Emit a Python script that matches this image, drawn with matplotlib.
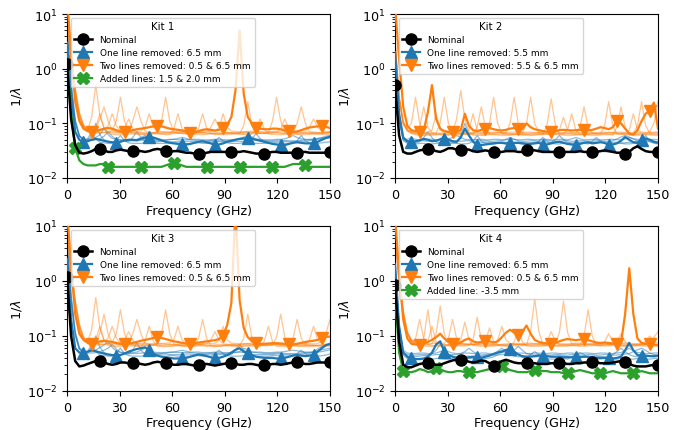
import numpy as np
import matplotlib
matplotlib.use("Agg")
import matplotlib.pyplot as plt

# Frequency grid (GHz), 65 samples from 0 to 150
freq_ghz = np.arange(65) * 150 / 64
SCALE = 1e-3  # all series below are 1/lambda in units of 1e-3

kit_titles = ["Kit 1", "Kit 2", "Kit 3", "Kit 4"]
one_labels = ["One line removed: 6.5 mm", "One line removed: 5.5 mm",
              "One line removed: 6.5 mm", "One line removed: 6.5 mm"]
two_labels = ["Two lines removed: 0.5 & 6.5 mm", "Two lines removed: 5.5 & 6.5 mm",
              "Two lines removed: 0.5 & 6.5 mm", "Two lines removed: 0.5 & 6.5 mm"]
added_labels = ["Added lines: 1.5 & 2.0 mm", None, None, "Added line: -3.5 mm"]

# ---------------- Kit 1 ----------------
k1_nominal = [1200,120,40,29,28,29,31,34,34,32,30,30,32,33,32,31,
              31,32,31,30,31,33,34,33,31,30,31,31,30,29,29,28,
              28,28,29,30,30,30,30,30,30,30,30,31,30,29,28,28,
              28,29,30,30,29,29,29,29,29,30,30,29,29,29,29,29,
              30]
k1_added = [1500,150,35,21,18,17,17,17,18,18,16,16,16,16,16,16,
            16,16,16,16,16,16,16,16,17,18,19,18,17,16,16,16,
            16,16,16,16,16,16,16,16,16,16,16,16,16,16,16,16,
            16,16,16,16,16,16,17,18,18,18,17,16,16,16,16,16,
            16]
k1_one = [3000,300,70,50,45,47,50,52,50,48,46,45,44,46,49,50,
          50,49,52,55,56,55,52,49,46,44,43,42,42,41,42,44,
          46,47,45,43,40,41,43,46,48,50,52,53,53,52,50,48,
          46,44,42,41,40,40,42,44,45,44,43,43,43,46,50,54,
          57]
k1_two = [20000,2000,250,110,80,72,69,72,76,80,82,80,75,71,70,72,
          75,78,80,82,85,88,90,88,84,80,78,76,74,72,67,68,
          72,76,78,76,74,76,83,95,130,400,5000,350,130,100,82,80,
          78,78,80,80,78,74,72,70,71,75,80,84,86,88,90,86,
          82]
k1_one_thin = [
    [5000,500,110,60,50,48,60,100,62,50,47,46,46,46,47,47,
     55,70,55,47,46,46,46,47,47,46,46,46,46,47,47,46,
     46,46,46,47,47,46,46,46,46,47,47,46,46,52,65,52,
     47,46,46,46,47,47,46,46,46,47,47,48,50,52,55,58,
     60],
    [4000,400,100,58,52,51,52,55,62,80,62,53,51,50,50,50,
     50,51,55,60,55,51,50,50,50,51,51,50,50,50,51,51,
     51,50,50,50,51,51,50,50,50,51,51,50,50,50,51,51,
     50,50,50,51,51,52,55,60,55,52,51,50,50,51,52,53,
     54],
    [6000,600,120,60,48,52,70,52,45,44,43,43,48,60,48,44,
     43,43,43,44,44,43,43,43,43,44,44,43,43,43,43,44,
     44,43,43,43,48,55,48,44,43,43,43,44,44,43,43,43,
     43,43,44,44,43,43,43,44,48,60,48,44,43,43,44,45,
     46],
    [4500,450,105,58,50,49,49,50,52,58,70,58,50,49,48,48,
     48,48,49,49,48,48,48,48,49,50,51,53,55,53,50,49,
     48,48,48,49,49,48,48,48,49,50,52,56,60,56,52,49,
     48,48,48,49,49,48,48,48,48,49,50,51,52,53,54,55,
     56],
]
k1_two_thin = [
    [12000,1500,400,150,90,75,130,500,140,80,70,67,66,66,67,68,
     68,67,66,65,65,66,70,110,300,110,70,66,65,64,64,65,
     66,67,66,65,64,64,65,66,67,66,65,90,250,90,68,66,
     65,65,66,67,66,65,65,66,67,67,66,65,65,66,67,68,
     68],
    [10000,1200,350,130,85,72,68,66,67,68,70,75,110,300,110,72,
     66,65,64,64,65,66,66,65,64,64,65,66,67,66,65,65,
     80,150,80,66,64,64,65,66,66,65,64,64,65,66,67,66,
     65,66,110,300,110,68,65,64,64,65,66,66,65,64,65,66,
     67],
    [14000,1800,450,160,95,78,72,80,120,200,110,75,70,68,67,69,
     110,200,110,72,68,67,66,66,67,68,68,67,66,66,67,68,
     68,67,66,66,67,68,68,67,66,66,67,68,69,68,67,66,
     66,67,68,68,67,66,66,68,100,200,100,70,68,67,66,67,
     68],
    [9000,1100,300,120,85,75,72,71,72,76,90,150,90,74,71,70,
     70,71,73,85,150,85,73,71,70,70,71,72,72,71,70,70,
     70,71,72,72,71,85,150,85,72,71,70,70,71,72,72,71,
     70,70,71,72,72,71,70,70,71,72,72,85,120,85,72,71,
     71],
    [11000,1300,380,140,90,72,68,85,150,85,66,63,62,62,63,64,
     64,63,62,62,63,64,64,63,62,62,80,150,80,64,63,62,
     62,62,63,64,64,63,62,62,63,64,64,63,62,63,80,120,
     80,64,63,62,62,63,64,64,63,62,62,63,64,64,63,62,
     62],
    [13000,1600,420,150,92,76,70,68,67,68,69,70,69,68,80,120,
     80,69,68,67,67,68,69,69,68,67,67,68,69,69,68,67,
     67,68,69,85,120,85,69,68,67,67,68,69,69,68,67,67,
     68,69,69,68,80,120,80,68,67,67,68,69,69,68,67,67,
     68],
]

# ---------------- Kit 2 ----------------
k2_nominal = [500,60,30,28,28,30,32,33,34,33,31,30,32,35,35,33,
              33,34,33,31,30,31,32,31,30,30,30,31,31,31,30,30,
              32,33,32,31,30,30,30,30,30,30,30,30,30,31,30,30,
              30,30,31,32,31,30,29,29,28,30,35,38,34,31,30,30,
              30]
k2_one = [2000,150,55,47,46,47,49,52,50,47,48,51,52,50,47,46,
          55,80,60,46,40,40,41,42,43,44,44,43,43,44,44,43,
          42,42,43,44,40,41,43,45,46,44,42,41,40,42,44,45,
          43,44,45,44,40,41,43,48,56,50,45,44,50,53,50,46,
          44]
k2_two = [15000,1500,200,90,75,72,70,75,160,500,120,80,72,70,68,70,
          75,150,90,75,72,76,80,82,78,75,74,76,80,82,80,78,
          100,85,78,75,72,70,70,72,75,76,75,74,75,76,75,74,
          76,80,85,82,78,85,110,100,80,65,62,75,110,150,170,240,
          80]
k2_one_thin = [
    [1500,120,50,45,44,44,46,55,70,55,46,44,44,45,45,44,
     60,100,60,46,44,44,45,45,44,44,45,45,44,44,45,45,
     44,44,45,45,44,44,45,50,60,50,45,44,44,45,45,44,
     44,45,45,44,44,45,45,44,44,45,46,47,48,47,46,45,
     44],
    [1800,140,52,48,47,47,48,48,47,47,48,52,60,52,48,47,
     47,48,48,47,47,48,48,47,47,48,48,51,55,51,48,47,
     47,48,48,47,47,48,48,47,47,48,48,47,47,48,48,47,
     47,48,48,47,47,48,52,56,60,56,52,48,47,48,48,47,
     46],
    [1300,110,48,43,42,42,43,43,42,42,43,43,42,42,43,43,
     42,42,43,47,60,47,43,42,42,43,43,42,42,43,43,42,
     42,43,43,47,55,47,43,42,42,43,43,42,42,43,43,42,
     47,55,47,43,42,42,43,43,42,42,43,43,47,60,47,43,
     42],
    [1600,130,52,51,55,51,50,50,51,51,50,50,51,52,55,60,
     55,51,50,50,51,51,50,50,51,51,50,50,51,51,50,50,
     51,51,50,50,51,51,50,50,51,51,50,52,55,52,50,50,
     51,51,50,50,51,51,50,50,52,55,52,51,50,50,51,51,
     50],
]
k2_two_thin = [
    [3000,300,110,80,100,300,100,66,63,62,62,63,64,64,63,62,
     62,63,64,64,63,62,62,100,300,100,64,62,62,63,64,64,
     63,62,62,63,64,64,63,62,62,63,64,64,63,62,62,63,
     64,64,63,90,250,90,64,63,62,62,63,64,64,63,62,62,
     63],
    [2500,280,100,75,68,66,65,65,66,67,66,100,300,100,67,65,
     64,64,65,66,66,65,64,64,65,66,66,65,64,64,65,66,
     100,300,100,66,65,64,64,65,66,66,65,64,64,65,66,66,
     65,64,64,65,66,66,65,64,64,65,66,90,250,90,66,65,
     65],
    [3500,320,105,75,66,62,61,60,60,61,62,62,61,60,70,120,
     400,120,70,61,60,60,61,62,62,61,60,60,61,62,62,61,
     60,60,61,62,62,95,280,95,62,61,60,60,61,62,62,61,
     60,60,61,62,62,61,85,200,85,61,60,60,61,62,62,61,
     60],
    [2800,290,105,78,70,67,85,200,85,67,66,66,67,68,68,67,
     66,66,67,68,68,67,66,66,67,68,68,67,100,300,100,67,
     66,66,67,68,68,67,66,66,67,68,68,67,66,85,200,85,
     67,66,66,67,68,68,67,66,66,67,68,68,67,66,66,67,
     68],
    [3200,310,100,72,65,64,63,63,64,65,65,64,63,63,64,65,
     65,64,63,63,85,200,85,64,63,63,64,65,65,64,63,63,
     63,64,65,65,64,63,63,64,65,65,75,150,75,64,63,63,
     64,65,65,64,63,63,64,65,65,64,63,63,64,65,70,100,
     250],
    [2700,270,95,74,70,69,68,68,69,75,150,75,69,68,68,69,
     69,68,75,150,75,69,68,68,69,69,68,68,69,69,68,68,
     69,69,68,68,69,69,68,68,75,130,75,68,68,69,69,68,
     68,68,69,69,68,68,69,69,68,75,150,75,69,68,68,69,
     70],
]

# ---------------- Kit 3 ----------------
k3_nominal = [1200,100,35,28,29,31,33,35,35,33,31,30,31,33,33,32,
              32,32,31,30,31,33,34,33,32,31,30,30,31,31,30,29,
              30,31,31,30,29,30,31,32,32,31,30,30,31,31,30,29,
              30,30,31,31,30,31,32,33,33,32,31,31,32,33,33,33,
              33]
k3_one = [2500,200,60,50,50,52,55,53,50,48,46,45,44,45,48,52,
          55,58,60,62,55,48,44,42,41,40,39,39,39,40,42,44,
          46,45,43,41,39,40,42,45,50,56,60,52,49,45,42,41,
          40,40,40,39,39,40,42,44,45,44,43,44,46,52,60,68,
          72]
k3_two = [20000,2000,250,110,85,76,72,75,80,82,80,78,75,72,72,73,
          75,78,82,85,88,92,95,92,88,84,80,78,75,73,72,74,
          76,78,80,82,84,88,100,160,400,20000,450,140,95,80,74,72,
          72,73,74,74,73,72,71,70,72,75,78,80,82,85,92,96,
          98]
k3_one_thin = [
    [5000,500,115,62,52,50,62,100,62,50,47,46,46,46,47,47,
     55,75,55,47,46,46,46,47,47,46,46,46,46,47,47,46,
     46,46,46,47,47,46,46,46,46,56,70,56,48,46,46,46,
     46,46,46,47,47,46,46,46,46,47,47,48,52,58,64,68,
     70],
    [4000,400,100,58,52,51,52,55,62,68,80,62,53,51,50,50,
     50,51,55,60,55,51,50,50,50,51,51,50,50,50,51,51,
     51,50,50,50,51,51,50,50,50,51,51,50,50,50,51,51,
     50,50,50,51,51,52,54,55,54,52,51,50,50,51,52,54,
     56],
    [6000,600,120,60,48,52,70,52,45,44,43,43,48,60,48,44,
     43,43,43,44,44,43,43,43,43,44,44,43,43,43,43,44,
     44,43,43,43,48,55,48,44,43,43,43,44,44,43,43,43,
     43,43,44,44,43,43,43,44,48,55,48,44,43,43,44,45,
     47],
    [4500,450,105,58,50,49,49,50,52,55,60,70,58,50,49,48,
     48,48,49,49,48,48,48,48,49,50,51,53,55,53,50,49,
     48,48,48,49,49,48,48,48,49,50,52,60,56,52,50,49,
     48,48,48,49,49,48,48,48,48,49,50,51,52,54,56,58,
     60],
]
k3_two_thin = [
    [12000,1500,420,160,95,78,130,500,140,82,72,69,68,68,69,70,
     70,69,68,67,67,68,72,110,300,110,72,68,67,66,66,67,
     68,69,68,67,66,66,67,68,69,68,67,90,250,90,70,68,
     67,67,68,69,68,67,67,68,69,69,68,67,67,68,69,70,
     70],
    [10000,1200,360,135,88,74,70,68,69,70,72,77,110,300,110,74,
     68,67,66,66,67,68,68,67,66,66,67,68,69,68,67,67,
     90,200,90,68,66,66,67,68,68,67,66,66,67,68,69,68,
     67,68,69,95,250,95,68,67,66,66,67,68,68,67,66,67,
     68],
    [14000,1800,460,165,98,80,74,80,110,250,110,76,72,70,69,70,
     110,200,110,73,70,69,68,68,69,70,70,69,68,68,69,70,
     70,69,68,68,69,70,70,69,68,68,69,70,71,70,69,68,
     68,69,70,70,69,68,68,90,200,90,70,69,68,67,68,69,
     70],
    [9000,1100,300,125,88,78,75,73,74,78,92,150,92,76,73,72,
     72,73,74,74,73,72,72,73,74,74,85,150,85,73,72,72,
     72,73,74,74,73,85,150,85,74,73,72,72,73,74,74,73,
     72,72,73,74,74,73,72,72,73,74,74,73,72,73,80,110,
     200],
    [11000,1300,380,140,90,72,68,85,150,85,67,65,64,64,65,66,
     66,65,64,80,150,80,65,64,64,65,66,66,65,64,64,65,
     66,66,65,64,64,65,66,66,65,64,64,65,66,66,65,64,
     80,150,80,65,64,64,65,66,66,65,64,64,65,66,66,65,
     66],
    [13000,1600,420,150,92,78,72,71,70,71,72,73,72,71,85,120,
     85,72,71,70,70,71,72,72,71,70,70,71,72,72,71,70,
     70,71,72,85,120,85,72,71,70,70,71,72,72,71,70,70,
     71,72,72,71,70,70,71,72,72,71,70,85,150,85,72,71,
     72],
]

# ---------------- Kit 4 ----------------
k4_nominal = [850,80,30,27,27,29,31,32,32,31,30,30,32,34,36,37,
              37,36,34,33,34,36,35,32,29,31,35,37,35,33,32,32,
              32,32,32,31,31,31,32,32,32,32,31,31,32,32,33,33,
              33,33,32,32,32,33,34,35,34,31,29,28,28,28,29,30,
              30]
k4_added = [600,50,23,22,22,23,25,24,22,23,26,25,23,22,22,23,
            23,22,22,22,22,23,24,25,26,28,28,26,24,23,22,22,
            22,23,24,24,23,23,22,22,22,21,21,22,23,24,23,22,
            21,21,21,21,22,23,22,21,21,21,21,22,23,22,21,21,
            21]
k4_one = [2000,150,50,42,39,38,38,39,42,50,70,80,52,45,42,40,
          40,40,41,42,41,40,42,44,47,50,52,56,57,52,46,43,
          42,42,43,44,44,43,42,42,42,41,41,41,41,41,42,42,
          41,40,40,40,39,39,40,42,55,75,55,45,44,44,43,43,
          44]
k4_two = [15000,1500,200,90,72,70,69,72,78,85,95,110,90,78,72,72,
          76,85,90,80,76,78,82,80,76,80,95,115,130,115,105,120,
          155,110,85,78,75,73,73,75,80,85,88,86,84,86,88,84,
          80,76,75,76,75,73,72,75,250,1700,250,90,75,72,72,70,
          68]
k4_one_thin = [
    [2000,150,48,43,42,42,43,44,45,48,55,70,55,45,43,42,
     42,43,43,42,42,43,44,45,48,53,60,53,46,43,42,42,
     43,43,42,42,43,43,42,42,43,43,42,42,43,43,42,42,
     43,43,42,42,43,46,52,60,52,46,43,42,42,43,43,42,
     42],
    [1800,140,50,46,45,45,46,46,45,45,46,46,45,45,46,46,
     48,52,60,52,47,45,46,46,45,45,46,47,50,55,65,55,
     48,46,45,46,46,45,45,46,46,45,45,46,46,45,45,46,
     46,45,45,46,46,45,45,46,47,48,52,56,60,55,49,46,
     45],
    [2200,160,45,39,38,38,39,39,38,38,39,39,38,38,39,39,
     38,38,39,39,38,38,39,40,42,46,50,52,55,52,46,41,
     40,46,52,46,40,39,38,38,39,39,38,42,46,50,46,40,
     39,38,38,39,39,38,38,39,39,38,38,39,39,38,38,39,
     39],
    [1900,150,55,49,48,48,49,49,48,48,49,52,55,52,49,48,
     48,49,49,48,48,49,49,48,48,50,55,50,48,48,49,49,
     48,48,49,49,48,48,49,49,48,48,49,49,48,48,49,49,
     48,48,49,49,48,48,49,50,54,60,54,50,49,48,48,49,
     49],
]
k4_two_thin = [
    [8000,900,250,110,80,72,70,69,70,72,110,350,110,72,69,68,
     68,69,70,70,69,68,68,69,70,70,69,68,68,69,70,70,
     69,120,480,120,70,69,68,68,69,70,70,69,68,68,69,70,
     70,69,68,68,69,70,70,69,68,68,69,70,70,72,80,95,
     120],
    [9000,1000,270,115,82,74,72,90,300,90,72,71,70,70,71,72,
     72,71,70,70,71,72,72,71,70,70,71,72,72,71,70,70,
     71,72,72,71,70,70,71,72,115,430,115,72,71,70,70,71,
     72,72,71,70,70,71,72,72,71,70,70,71,72,72,71,70,
     70],
    [7000,800,230,105,78,90,200,90,70,67,66,66,67,68,68,67,
     66,66,67,85,220,85,67,66,66,67,68,68,67,66,66,67,
     68,68,67,66,66,67,68,68,67,66,66,67,68,68,100,300,
     100,68,67,66,66,67,68,68,67,66,66,67,68,68,67,66,
     66],
    [10000,1100,290,120,86,78,75,73,72,73,74,74,73,90,200,90,
     74,73,72,72,73,74,74,73,72,85,150,85,73,72,72,73,
     74,74,73,72,72,73,74,74,73,72,72,73,74,74,73,72,
     72,73,74,74,73,72,72,73,74,74,73,72,72,80,100,80,
     74],
    [8500,950,260,112,80,70,67,66,65,65,66,67,67,66,65,65,
     85,180,85,67,66,65,65,66,67,67,66,65,65,78,130,78,
     66,65,65,66,67,67,66,65,65,66,67,67,66,65,65,66,
     67,67,66,78,110,78,66,65,65,66,67,67,66,65,65,66,
     67],
    [9500,1050,280,118,84,75,72,70,80,150,80,70,69,69,70,71,
     71,70,69,69,70,71,80,140,80,70,69,69,70,71,71,70,
     69,69,70,71,71,80,120,80,70,69,69,70,71,71,70,69,
     69,70,71,71,70,69,78,110,78,70,69,69,70,71,71,70,
     69],
]

kits = [
    (k1_nominal, k1_one, k1_two, k1_added, k1_one_thin, k1_two_thin),
    (k2_nominal, k2_one, k2_two, None, k2_one_thin, k2_two_thin),
    (k3_nominal, k3_one, k3_two, None, k3_one_thin, k3_two_thin),
    (k4_nominal, k4_one, k4_two, k4_added, k4_one_thin, k4_two_thin),
]

BLUE = "#1f77b4"
ORANGE = "#ff7f0e"
GREEN = "#2ca02c"

fig = plt.figure(figsize=(6.82, 4.31), dpi=100)
axes_rects = [
    (67/682, 1-179/431, 263/682, 164/431),
    (395/682, 1-179/431, 263/682, 164/431),
    (67/682, 1-392/431, 263/682, 165/431),
    (395/682, 1-392/431, 263/682, 165/431),
]

def arr(v):
    v = np.asarray(v, dtype=float)
    assert v.size == freq_ghz.size, v.size
    return v * SCALE

for k, rect in enumerate(axes_rects):
    ax = fig.add_axes(rect)
    nominal, one, two, added, one_thin, two_thin = kits[k]
    for s in one_thin:
        ax.plot(freq_ghz, arr(s), color=BLUE, lw=0.9, alpha=0.5, zorder=1)
    for s in two_thin:
        ax.plot(freq_ghz, arr(s), color=ORANGE, lw=0.9, alpha=0.45, zorder=1)
    hn, = ax.plot(freq_ghz, arr(nominal), color="black", lw=1.8, marker="o",
                  ms=8, markevery=(0, 8), label="Nominal", zorder=5)
    h1, = ax.plot(freq_ghz, arr(one), color=BLUE, lw=1.6, marker="^",
                  ms=8, markevery=(4, 8), label=one_labels[k], zorder=3)
    h2, = ax.plot(freq_ghz, arr(two), color=ORANGE, lw=1.6, marker="v",
                  ms=8, markevery=(6, 8), label=two_labels[k], zorder=3)
    hs = [hn, h1, h2]
    if added is not None:
        h3, = ax.plot(freq_ghz, arr(added), color=GREEN, lw=1.6, marker="X",
                      ms=8, markevery=(2, 8), label=added_labels[k], zorder=4)
        hs.append(h3)
    ax.set_yscale("log")
    ax.set_xlim(0, 150)
    ax.set_ylim(1e-2, 1e1)
    ax.set_xticks([0, 30, 60, 90, 120, 150])
    ax.tick_params(labelsize=9.2)
    ax.set_xlabel("Frequency (GHz)", fontsize=9.2, labelpad=2)
    ax.set_ylabel(r"$1/\lambda$", fontsize=9.2, labelpad=2)
    leg = ax.legend(handles=hs, loc="upper left", title=kit_titles[k],
                    fontsize=6.5, title_fontsize=7.3, borderaxespad=0.4,
                    labelspacing=0.45)
    leg.set_zorder(10)

fig.savefig("out.png", dpi=100)
